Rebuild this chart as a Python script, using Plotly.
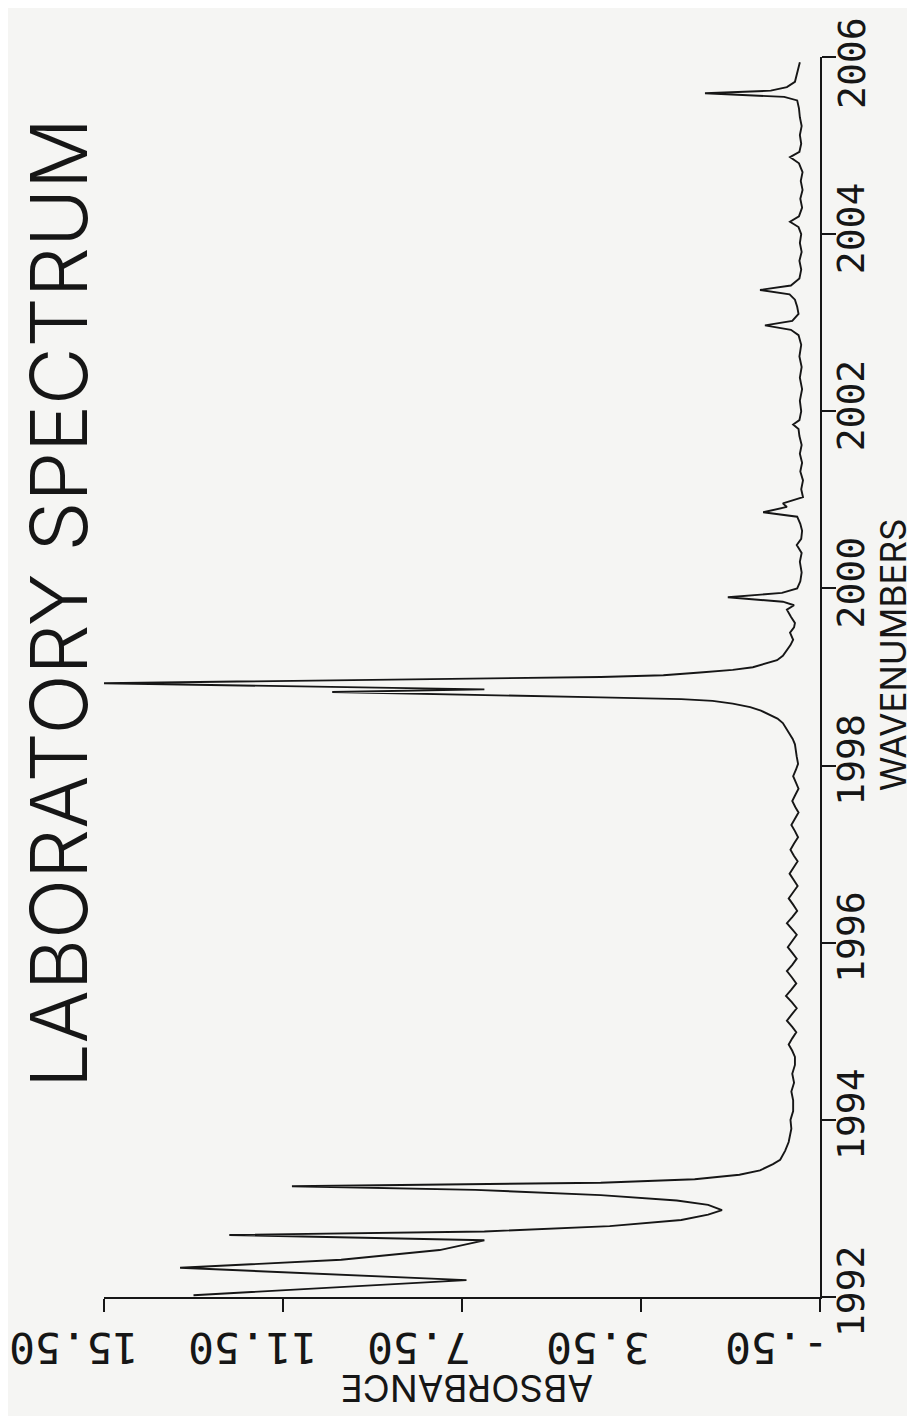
import plotly.graph_objects as go

# ---- data (wavenumber, absorbance) ----
wavenumber = [
    1992.02, 1992.19, 1992.33, 1992.42, 1992.53, 1992.64, 1992.70, 1992.74,
    1992.80, 1992.87, 1992.93, 1992.98, 1993.04, 1993.09, 1993.15, 1993.21,
    1993.25, 1993.29, 1993.33, 1993.38, 1993.43, 1993.50, 1993.55, 1993.65,
    1993.75, 1993.81, 1993.90, 1994.00, 1994.10, 1994.22, 1994.32, 1994.42,
    1994.52, 1994.62, 1994.71, 1994.78, 1994.85, 1994.92, 1994.99, 1995.05,
    1995.12, 1995.19, 1995.26, 1995.33, 1995.40, 1995.47, 1995.54, 1995.61,
    1995.68, 1995.75, 1995.82, 1995.88, 1995.95, 1996.02, 1996.09, 1996.15,
    1996.22, 1996.29, 1996.36, 1996.43, 1996.50, 1996.57, 1996.64, 1996.71,
    1996.78, 1996.85, 1996.92, 1996.98, 1997.05, 1997.12, 1997.19, 1997.26,
    1997.33, 1997.40, 1997.47, 1997.53, 1997.60, 1997.67, 1997.74, 1997.81,
    1997.88, 1997.95, 1998.02, 1998.10, 1998.18, 1998.24, 1998.30, 1998.36,
    1998.42, 1998.48, 1998.53, 1998.57, 1998.62, 1998.66, 1998.70, 1998.73,
    1998.75, 1998.77, 1998.83, 1998.86, 1998.93, 1999.00, 1999.02, 1999.05,
    1999.08, 1999.11, 1999.15, 1999.19, 1999.24, 1999.30, 1999.36, 1999.42,
    1999.50, 1999.56, 1999.61, 1999.68, 1999.76, 1999.81, 1999.85, 1999.90,
    1999.95, 2000.00, 2000.08, 2000.18, 2000.30, 2000.40, 2000.49, 2000.56,
    2000.65, 2000.73, 2000.77, 2000.81, 2000.86, 2000.92, 2000.96, 2001.03,
    2001.12, 2001.22, 2001.32, 2001.42, 2001.52, 2001.62, 2001.72, 2001.80,
    2001.85, 2001.90, 2002.00, 2002.12, 2002.25, 2002.38, 2002.50, 2002.62,
    2002.75, 2002.86, 2002.92, 2002.97, 2003.02, 2003.10, 2003.18, 2003.26,
    2003.32, 2003.37, 2003.42, 2003.50, 2003.60, 2003.70, 2003.80, 2003.90,
    2004.00, 2004.08, 2004.14, 2004.20, 2004.30, 2004.40, 2004.50, 2004.60,
    2004.70, 2004.80, 2004.87, 2004.93, 2005.02, 2005.12, 2005.22, 2005.32,
    2005.42, 2005.51, 2005.55, 2005.59, 2005.62, 2005.66, 2005.72, 2005.82,
    2005.94,
]
absorbance = [
    13.5, 7.4, 13.8, 10.2, 8.0, 7.0, 12.7, 7.0,
    4.2, 2.6, 2.0, 1.69, 2.0, 2.7, 4.4, 7.2,
    11.3, 4.4, 2.3, 1.3, 0.84, 0.55, 0.39, 0.28,
    0.20, 0.17, 0.14, 0.16, 0.10, 0.10, 0.14, 0.08,
    0.12, 0.06, 0.06, 0.12, 0.20, 0.12, 0.03, 0.12,
    0.24, 0.13, 0.02, 0.13, 0.26, 0.14, 0.03, 0.13,
    0.24, 0.12, 0.02, 0.11, 0.22, 0.12, 0.02, 0.12,
    0.24, 0.12, 0.01, 0.10, 0.20, 0.10, 0.00, 0.09,
    0.18, 0.09, 0.00, 0.08, 0.16, 0.08, -0.01, 0.06,
    0.14, 0.06, -0.02, 0.05, 0.12, 0.05, -0.02, 0.04,
    0.10, 0.04, -0.01, 0.02, 0.04, 0.06, 0.11, 0.18,
    0.25, 0.33, 0.45, 0.62, 0.82, 1.06, 1.45, 1.90,
    2.6, 4.4, 10.4, 7.0, 15.5, 4.4, 3.0, 2.18,
    1.45, 1.00, 0.70, 0.46, 0.33, 0.24, 0.16, 0.10,
    0.17, 0.08, 0.06, 0.15, 0.24, 0.08, 0.33, 1.56,
    0.35, 0.01, -0.06, -0.09, -0.05, -0.09, 0.02, -0.08,
    -0.10, -0.06, -0.03, 0.01, 0.77, 0.24, 0.33, -0.12,
    -0.08, -0.12, -0.06, -0.10, -0.05, -0.09, -0.04, -0.02,
    0.10, -0.04, -0.08, -0.05, -0.10, -0.05, -0.09, -0.04,
    -0.08, -0.02, 0.15, 0.73, 0.12, -0.02, 0.01, 0.06,
    0.18, 0.84, 0.15, -0.04, -0.08, -0.04, -0.09, -0.05,
    -0.08, -0.02, 0.17, -0.03, -0.10, -0.06, -0.11, -0.07,
    -0.11, -0.03, 0.17, -0.04, -0.08, -0.05, -0.09, -0.05,
    -0.03, 0.01, 0.30, 2.07, 0.60, 0.24, 0.06, 0.01,
    -0.05,
]

abs_ticks = [-0.5, 3.5, 7.5, 11.5, 15.5]
abs_labels = ["-.50", "3.50", "7.50", "11.50", "15.50"]
wn_ticks = [1992, 1994, 1996, 1998, 2000, 2002, 2004, 2006]
wn_labels = ["1992", "1994", "1996", "1998", "2000", "2002", "2004", "2006"]

title_text = "LABORATORY SPECTRUM"
x_title = "ABSORBANCE"
y_title = "WAVENUMBERS"

# page is 915x1416; the html body adds an 8px offset
OFF = 8
FW, FH = 915 - OFF, 1416 - OFF
X0, X1, Y0, Y1 = 104, 820, 57, 1297          # plot area in page pixels
ML, MT = X0 - OFF, Y0 - OFF
MR, MB = FW - (X1 - OFF), FH - (Y1 - OFF)

ink = "#161616"
bg = "#f5f5f3"
mono = "DejaVu Sans Mono"
light = "Inter, DejaVu Sans, sans-serif"
tick_font = dict(family=mono, size=38, color=ink)

# the topmost wavenumber label sits at the very top edge; it is drawn as a
# rotated annotation tied to the axis scale so that it stays inside the page
axis_wn_text = wn_labels[:-1] + [""]

fig = go.Figure()
fig.add_trace(go.Scatter(
    x=absorbance, y=wavenumber, mode="lines",
    line=dict(color=ink, width=1.9), hoverinfo="skip", showlegend=False,
))

fig.update_layout(
    width=FW, height=FH,
    margin=dict(l=ML, r=MR, t=MT, b=MB, pad=0, autoexpand=False),
    paper_bgcolor=bg, plot_bgcolor=bg,
    showlegend=False,
    xaxis=dict(
        range=[15.5, -0.5], tickvals=abs_ticks, ticktext=abs_labels,
        tickangle=180, ticks="outside", ticklen=13, tickwidth=2, tickcolor=ink,
        showline=True, linecolor=ink, linewidth=2, showgrid=False, zeroline=False,
        tickfont=dict(family=mono, size=43, color=ink),
        ticklabelshift=95, ticklabelstandoff=12, ticklabeloverflow="allow",
        automargin=False,
    ),
    yaxis=dict(
        range=[1992, 2006], side="right", tickvals=wn_ticks, ticktext=axis_wn_text,
        tickangle=-90, ticks="outside", ticklen=14, tickwidth=2, tickcolor=ink,
        showline=True, linecolor=ink, linewidth=2, showgrid=False, zeroline=False,
        tickfont=tick_font,
        ticklabelstandoff=-18, ticklabeloverflow="allow",
        automargin=False,
    ),
)

def px_x(p):
    return (p - X0) / (X1 - X0)

def px_y(p):
    return (Y1 - p) / (Y1 - Y0)

fig.add_annotation(
    text=wn_labels[-1], xref="paper", yref="y", x=px_x(852), y=wn_ticks[-1],
    yshift=-6, showarrow=False, textangle=-90, font=tick_font,
    xanchor="center", yanchor="middle",
)
fig.add_annotation(
    text=title_text, xref="paper", yref="paper", x=px_x(58), y=px_y(603),
    showarrow=False, textangle=-90,
    font=dict(family=light, size=79, color=ink, weight=300),
    xanchor="center", yanchor="middle",
)
fig.add_annotation(
    text=y_title, xref="paper", yref="paper", x=px_x(893), y=px_y(655),
    showarrow=False, textangle=-90,
    font=dict(family=light, size=35, color=ink, weight=400),
    xanchor="center", yanchor="middle",
)
fig.add_annotation(
    text=x_title, xref="paper", yref="paper", x=px_x(467), y=px_y(1389),
    showarrow=False, textangle=180,
    font=dict(family=light, size=37, color=ink, weight=400),
    xanchor="center", yanchor="middle",
)

fig.write_html("out.html")
